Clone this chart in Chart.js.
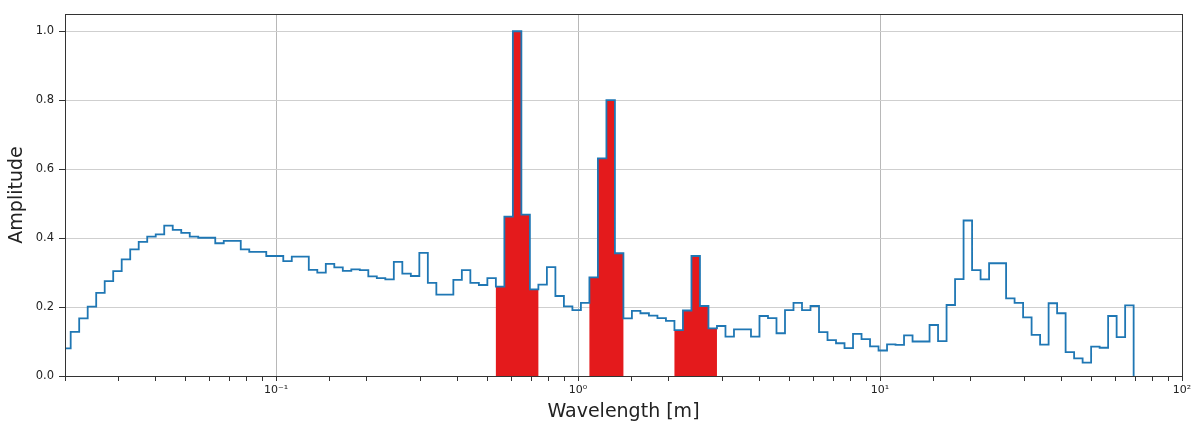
<!DOCTYPE html>
<html>
<head>
<meta charset="utf-8">
<script src="https://cdn.jsdelivr.net/npm/chart.js@4"></script>
<style>
  html, body { margin: 0; padding: 0; background: #fff; }
  #wrap { width: 1200px; height: 425px; }
</style>
</head>
<body>
<div id="wrap"><canvas id="spectrumChart" width="1200" height="425"></canvas></div>
<script>
// Histogram bins: log10 of the first left edge and log10 width of one bin
const binLogStart = -1.7083;
const binLogStep = 0.02816;

// Amplitude per bin, read left to right
const amplitude = [
    0.080, 0.128, 0.167, 0.201, 0.241, 0.275, 0.304, 0.338, 0.367, 0.389,
    0.404, 0.411, 0.436, 0.424, 0.415, 0.404, 0.401, 0.401, 0.385, 0.392,
    0.392, 0.367, 0.360, 0.360, 0.348, 0.348, 0.333, 0.346, 0.346, 0.308,
    0.300, 0.325, 0.315, 0.305, 0.309, 0.307, 0.289, 0.284, 0.280, 0.331,
    0.297, 0.290, 0.357, 0.270, 0.236, 0.236, 0.279, 0.307, 0.270, 0.264,
    0.284, 0.259, 0.462, 1.000, 0.468, 0.251, 0.265, 0.316, 0.232, 0.202,
    0.191, 0.212, 0.286, 0.631, 0.800, 0.356, 0.167, 0.189, 0.182, 0.175,
    0.168, 0.160, 0.133, 0.190, 0.348, 0.203, 0.138, 0.145, 0.114, 0.135,
    0.135, 0.114, 0.174, 0.168, 0.124, 0.191, 0.212, 0.191, 0.203, 0.127,
    0.104, 0.095, 0.081, 0.122, 0.107, 0.086, 0.074, 0.092, 0.090, 0.118,
    0.100, 0.100, 0.148, 0.101, 0.206, 0.281, 0.451, 0.307, 0.280, 0.327,
    0.327, 0.225, 0.212, 0.170, 0.119, 0.091, 0.211, 0.182, 0.069, 0.051,
    0.039, 0.085, 0.082, 0.174, 0.113, 0.205
];

// Bins filled in red (indices into amplitude)
const highlightBins = [51, 52, 53, 54, 55, 62, 63, 64, 65, 72, 73, 74, 75, 76];

// Axis ticks
const yTicks = [0, 0.2, 0.4, 0.6, 0.8, 1.0];
const decadeExps = [-1, 0, 1, 2];
const decadeLabels = ['10\u207B\u00B9', '10\u2070', '10\u00B9', '10\u00B2'];

const FONT = 'DejaVu Sans';

function binEdge(i) {
    return Math.pow(10, binLogStart + i * binLogStep);
}

// Step outline: one point per left edge, then drop to zero at the last edge
function buildSteps(values) {
    const pts = values.map((v, i) => ({ x: binEdge(i), y: v }));
    pts.push({ x: binEdge(values.length), y: 0 });
    return pts;
}

function decadeLabel(value) {
    const e = Math.log10(value);
    const r = Math.round(e);
    if (Math.abs(e - r) > 1e-6) return '';
    const idx = decadeExps.indexOf(r);
    return idx >= 0 ? decadeLabels[idx] : '';
}

function isDecade(value) {
    const e = Math.log10(value);
    return Math.abs(e - Math.round(e)) < 1e-6;
}

// Frame on all four sides
const framePlugin = {
    id: 'frame',
    afterDraw(chart) {
        const { ctx, chartArea: a } = chart;
        ctx.save();
        ctx.strokeStyle = '#333';
        ctx.lineWidth = 1;
        ctx.strokeRect(Math.round(a.left) + 0.5, Math.round(a.top) + 0.5,
            Math.round(a.right - a.left), Math.round(a.bottom - a.top));
        ctx.restore();
    }
};

const redValues = amplitude.map((v, i) => highlightBins.includes(i) ? v : 0);

new Chart(document.getElementById('spectrumChart'), {
    type: 'line',
    data: {
        datasets: [{
            label: 'Spectrum',
            data: buildSteps(amplitude),
            borderColor: '#1f77b4',
            borderWidth: 1.8,
            stepped: true,
            pointRadius: 0,
            fill: false
        }, {
            label: 'Peaks',
            data: buildSteps(redValues),
            borderWidth: 0,
            borderColor: 'rgba(0,0,0,0)',
            backgroundColor: '#e41a1c',
            stepped: true,
            pointRadius: 0,
            fill: 'origin'
        }]
    },
    options: {
        responsive: false,
        animation: false,
        layout: { padding: { left: 0, top: 14, right: 18, bottom: 0 } },
        plugins: {
            legend: { display: false },
            tooltip: { enabled: false }
        },
        scales: {
            x: {
                type: 'logarithmic',
                min: 0.02,
                max: 100,
                z: 1,
                border: { display: true, color: '#333', width: 1 },
                grid: {
                    color: ctx => isDecade(ctx.tick.value) ? '#b8b8b8' : 'rgba(0,0,0,0)',
                    lineWidth: 1,
                    drawTicks: true,
                    tickLength: 5,
                    tickColor: '#333'
                },
                ticks: {
                    autoSkip: false,
                    maxRotation: 0,
                    padding: 3,
                    color: '#222',
                    font: { family: FONT, size: 11 },
                    callback: value => decadeLabel(value)
                },
                title: {
                    display: true,
                    text: 'Wavelength [m]',
                    color: '#222',
                    font: { family: FONT, size: 19 },
                    padding: { top: 0, bottom: 2 }
                },
                afterFit: s => { s.height = 49; }
            },
            y: {
                type: 'linear',
                min: 0,
                max: 1.05,
                z: 1,
                border: { display: true, color: '#333', width: 1 },
                grid: {
                    color: '#cfcfcf',
                    lineWidth: 1,
                    drawTicks: true,
                    tickLength: 6,
                    tickColor: '#333'
                },
                afterBuildTicks: s => { s.ticks = yTicks.map(v => ({ value: v })); },
                ticks: {
                    padding: 5,
                    color: '#222',
                    font: { family: FONT, size: 11.5 },
                    callback: value => Number(value).toFixed(1)
                },
                title: {
                    display: true,
                    text: 'Amplitude',
                    color: '#222',
                    font: { family: FONT, size: 19 },
                    padding: { top: 6, bottom: 0 }
                },
                afterFit: s => { s.width = 65; }
            }
        }
    },
    plugins: [framePlugin]
});
</script>
</body>
</html>
